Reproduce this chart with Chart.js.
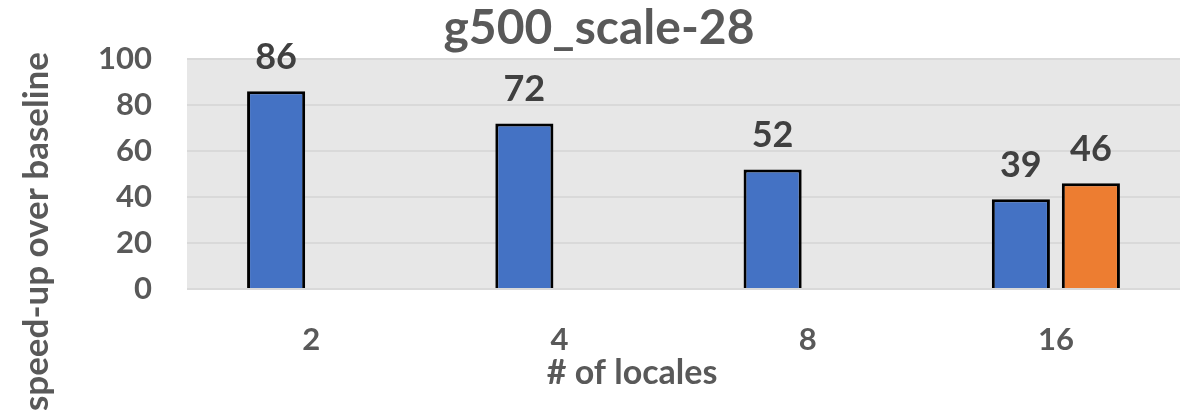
<!DOCTYPE html>
<html>
<head>
<meta charset="utf-8">
<script src="https://cdn.jsdelivr.net/npm/chart.js@4/dist/chart.umd.min.js"></script>
<style>
html,body{margin:0;padding:0;background:#fff;}
#wrap{width:1190px;height:410px;position:relative;}
</style>
</head>
<body>
<div id="wrap"><canvas id="c" width="1190" height="410"></canvas></div>
<script>
const categories = ['2', '4', '8', '16'];
const seriesA = [86, 72, 52, 39];
const seriesB = [null, null, null, 46];
const yTicks = [0, 20, 40, 60, 80, 100];
const titleText = 'g500_scale-28';
const xTitleText = '# of locales';
const yTitleText = 'speed-up over baseline';

const FONT = 'Lato, "Open Sans", sans-serif';

const bgPlugin = {
  id: 'bg',
  beforeDraw(chart) {
    const {ctx, chartArea: a} = chart;
    ctx.save();
    ctx.fillStyle = '#e7e7e7';
    ctx.fillRect(a.left, a.top, a.right - a.left, a.bottom - a.top);
    ctx.restore();
  }
};

const textPlugin = {
  id: 'texts',
  afterDraw(chart) {
    const ctx = chart.ctx;
    ctx.save();
    // value labels
    ctx.fillStyle = '#404040';
    ctx.font = 'bold 36px ' + FONT;
    ctx.textAlign = 'center';
    ctx.textBaseline = 'alphabetic';
    chart.data.datasets.forEach((ds, i) => {
      const meta = chart.getDatasetMeta(i);
      meta.data.forEach((el, j) => {
        const v = ds.data[j];
        if (v === null || v === undefined) return;
        ctx.fillText(String(v), el.x, el.y - 22);
      });
    });
    // title
    ctx.fillStyle = '#595959';
    ctx.font = 'bold 48px ' + FONT;
    ctx.fillText(titleText, 599, 44);
    // x title
    ctx.font = 'bold 34px ' + FONT;
    ctx.fillText(xTitleText, 632, 384);
    // y title
    ctx.translate(48, 52);
    ctx.rotate(-Math.PI / 2);
    ctx.textAlign = 'right';
    ctx.font = 'bold 35px ' + FONT;
    ctx.fillText(yTitleText, 0, 0);
    ctx.restore();
  }
};

new Chart(document.getElementById('c'), {
  type: 'bar',
  data: {
    labels: categories,
    datasets: [
      { label: 'A', data: seriesA, backgroundColor: '#4472C4', borderColor: '#000000', borderWidth: 3 },
      { label: 'B', data: seriesB, backgroundColor: '#ED7D31', borderColor: '#000000', borderWidth: 3 }
    ]
  },
  options: {
    responsive: false,
    animation: false,
    devicePixelRatio: 1,
    categoryPercentage: 0.564,
    barPercentage: 0.83,
    layout: { padding: { top: 59, right: 10, left: 0, bottom: 0 } },
    plugins: { legend: { display: false }, tooltip: { enabled: false }, title: { display: false } },
    scales: {
      x: {
        grid: { display: false },
        border: { display: false },
        ticks: { color: '#595959', font: { family: FONT, size: 31, weight: 'bold' }, padding: 24 },
        afterFit(s) { s.height = 121; }
      },
      y: {
        min: 0, max: 100,
        afterBuildTicks(s) { s.ticks = yTicks.map(v => ({ value: v })); },
        grid: { color: '#d9d9d9', lineWidth: 2, drawTicks: false },
        border: { display: false },
        ticks: { color: '#595959', font: { family: FONT, size: 31, weight: 'bold' }, padding: 35 },
        afterFit(s) { s.width = 187; }
      }
    }
  },
  plugins: [bgPlugin, textPlugin]
});
</script>
</body>
</html>
